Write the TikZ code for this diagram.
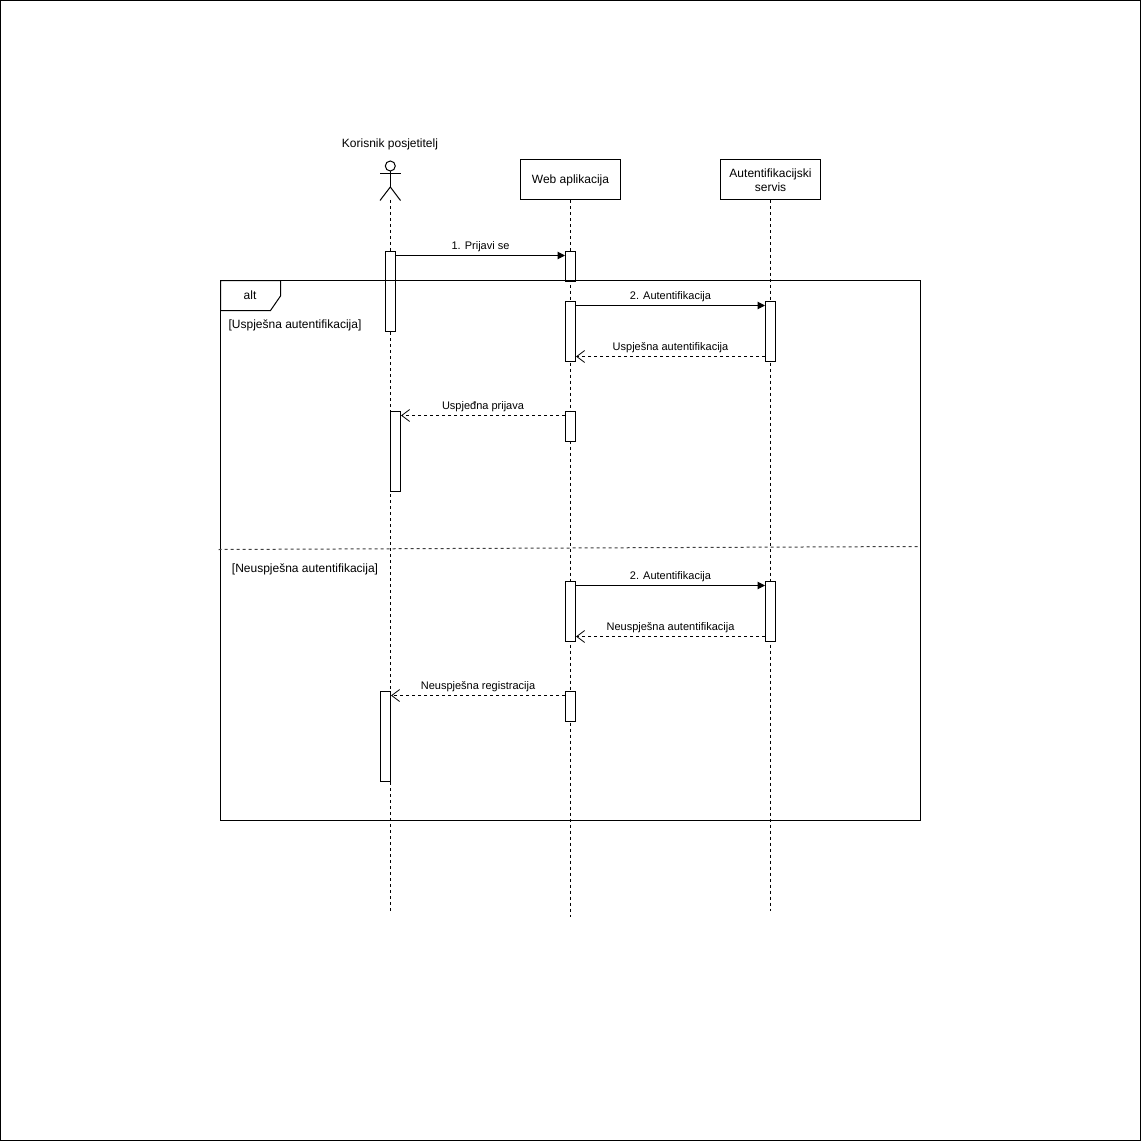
\documentclass[tikz,border=0pt]{standalone}
\usepackage{fontspec}
\setmainfont{Liberation Sans}
\usetikzlibrary{arrows.meta,calc}
\tikzset{
  x=0.75pt,y=-0.75pt,
  every node/.style={text=black},
  thin line/.style={line width=0.75pt,draw=black},
  lifeline/.style={thin line,dash pattern=on 2.25pt off 2.25pt},
  headbox/.style={thin line,fill=white,minimum width=75pt,minimum height=30pt,inner sep=0pt,align=center,font=\fontsize{9}{10.5}\selectfont},
  bar/.style={thin line,fill=white,minimum width=7.5pt,inner sep=0pt,anchor=north},
  msg/.style={thin line,-{Triangle[length=5.6pt,width=5.6pt]}},
  ret/.style={lifeline,-{Straight Barb[length=6pt,width=9pt,line width=0.6pt]}},
  lab/.style={midway,yshift=6.75pt,inner sep=0pt,font=\fontsize{8.25}{10}\selectfont},
  txt/.style={inner sep=0pt,font=\fontsize{9}{10.5}\selectfont},
  gtxt/.style={txt}
}
\begin{document}
\begin{tikzpicture}
\useasboundingbox (0,0) rectangle (1141,1141);
\fill[white] (0,0) rectangle (1141,1141);
\draw[line width=1.1pt,black] (0.5,0.5) rectangle (1140.5,1140.5);

% heads
\node[txt] (actorname) at (390,144.5) {Korisnik posjetitelj};
\node[headbox] (web) at (570.5,180) {Web aplikacija};
\node[headbox] (auth) at (770.5,180) {Autentifikacijski\\servis};

% actor
\coordinate (actorfoot) at (390,200);
\coordinate (webend) at (570.5,917);
\coordinate (authend) at (770.5,911);
\coordinate (actorend) at (390,911);

% lifelines
\draw[lifeline] (actorfoot) -- (actorend);
\draw[lifeline] (web.south) -- (webend);
\draw[lifeline] (auth.south) -- (authend);

% stick figure
\node[thin line,draw,circle,fill=white,minimum size=7.5pt,inner sep=0pt] (head) at (390.3,166) {};
\coordinate (hip) at (390.3,187);
\coordinate (armL) at (380,174);
\coordinate (armR) at (400.5,174);
\coordinate (legL) at (380,200.5);
\coordinate (legR) at (400.5,200.5);
\draw[thin line] (head.south) -- (hip);
\draw[thin line] (armL) -- (armR);
\draw[thin line] (legL) -- (hip) -- (legR);

% activation bars
\node[bar,minimum height=60pt] (a1) at (390.5,250.5) {};
\node[bar,minimum height=60pt] (a2) at (395.5,410.5) {};
\node[bar,minimum height=67.5pt] (a3) at (385.5,690.5) {};
\node[bar,minimum height=22.5pt] (w1) at (570.5,250.5) {};
\node[bar,minimum height=45pt] (w2) at (570.5,300.5) {};
\node[bar,minimum height=22.5pt] (w3) at (570.5,410.5) {};
\node[bar,minimum height=45pt] (w4) at (570.5,580.5) {};
\node[bar,minimum height=22.5pt] (w5) at (570.5,690.5) {};
\node[bar,minimum height=45pt] (s1) at (770.5,300.5) {};
\node[bar,minimum height=45pt] (s2) at (770.5,580.5) {};

% frame
\coordinate (fTL) at (220.5,280.5);
\coordinate (fBR) at (920.5,820.5);
\draw[thin line] (fTL) rectangle (fBR);
\draw[thin line] (fTL) -- (280.5,280.5) -- (280.5,296) -- (270.5,310.5) -- (220.5,310.5) -- cycle;
\node[txt] (alt) at (250,295) {alt};
\node[txt] (g1) at (295,325) {[Uspješna autentifikacija]};
\node[txt] (g2) at (305,569.5) {[Neuspješna autentifikacija]};
\coordinate (divL) at (218.5,549.5);
\coordinate (divR) at (918.5,546.5);
\draw[lifeline,draw=black!75] (divL) -- (divR);

% messages
\draw[msg] ([yshift=-3.75pt]a1.north east) -- node[lab] (m1) {1. Prijavi se} ([yshift=-3.75pt]w1.north west);
\draw[msg] ([yshift=-3.75pt]w2.north east) -- node[lab] (m2) {2. Autentifikacija} ([yshift=-3.75pt]s1.north west);
\draw[ret] ([yshift=3.75pt]s1.south west) -- node[lab] (m3) {Uspješna autentifikacija} ([yshift=3.75pt]w2.south east);
\draw[ret] ([yshift=-3.75pt]w3.north west) -- node[lab] (m4) {Uspjeđna prijava} ([yshift=-3.75pt]a2.north east);
\draw[msg] ([yshift=-3.75pt]w4.north east) -- node[lab] (m5) {2. Autentifikacija} ([yshift=-3.75pt]s2.north west);
\draw[ret] ([yshift=3.75pt]s2.south west) -- node[lab] (m6) {Neuspješna autentifikacija} ([yshift=3.75pt]w4.south east);
\draw[ret] ([yshift=-3.75pt]w5.north west) -- node[lab] (m7) {Neuspješna registracija} ([yshift=-3.75pt]a3.north east);
\end{tikzpicture}
\end{document}
